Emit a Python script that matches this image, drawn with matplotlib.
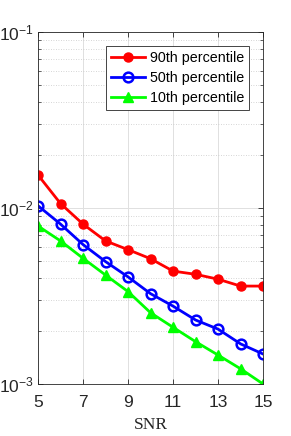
import matplotlib
matplotlib.use("Agg")
import matplotlib.pyplot as plt
from matplotlib.ticker import LogLocator, NullFormatter

plt.rcParams['font.family'] = ['Liberation Sans', 'DejaVu Sans']
plt.rcParams['mathtext.fontset'] = 'custom'
plt.rcParams['mathtext.rm'] = 'Liberation Sans'
plt.rcParams['mathtext.it'] = 'Liberation Sans:italic'

snr = [5, 6, 7, 8, 9, 10, 11, 12, 13, 14, 15]
p90 = [0.0154, 0.0106, 0.0081, 0.0065, 0.0058, 0.00515, 0.00438, 0.0042, 0.00394, 0.0036, 0.0036]
p50 = [0.0103, 0.0081, 0.0062, 0.00496, 0.00406, 0.00326, 0.00277, 0.00231, 0.00205, 0.00169, 0.00148]
p10 = [0.0079, 0.0065, 0.00518, 0.00416, 0.00335, 0.00254, 0.0021, 0.00174, 0.00146, 0.00122, 0.0010]
xticks = [5, 7, 9, 11, 13, 15]
yticks = [1e-3, 1e-2, 1e-1]
ytick_labels = ['$10^{-3}$', '$10^{-2}$', '$10^{-1}$']

fig = plt.figure(figsize=(2.91, 4.36), dpi=100)
ax = fig.add_axes([0.1306, 0.1193, 0.7734, 0.8073])

ax.semilogy(snr, p90, '-o', color='red', lw=2, ms=6.5, mfc='red', mec='red', label='90th percentile')
ax.semilogy(snr, p50, '-o', color='blue', lw=2, ms=7, mfc='none', mec='blue', mew=1.8, label='50th percentile')
ax.semilogy(snr, p10, '-^', color='#00ff00', lw=2, ms=7, mfc='#00ff00', mec='#00ff00', label='10th percentile')

ax.set_xlim(5, 15)
ax.set_ylim(1e-3, 1e-1)
ax.set_xticks(xticks)
ax.set_yticks(yticks)
ax.set_yticklabels(ytick_labels)
ax.yaxis.set_minor_locator(LogLocator(base=10, subs=range(2, 10)))
ax.yaxis.set_minor_formatter(NullFormatter())

ax.grid(True, which='major', color='#e0e0e0', lw=0.7, ls='-')
ax.grid(True, which='minor', axis='y', color='#c8c8c8', lw=0.6, ls=(0, (1, 2)))
ax.set_axisbelow(True)

ax.tick_params(which='both', direction='in', top=True, right=True, colors='#262626', labelsize=12.5)
ax.tick_params(which='major', length=3.5, width=0.6)
ax.tick_params(which='minor', length=2, width=0.5)
ax.tick_params(axis='x', pad=8)
ax.tick_params(axis='y', pad=3)
for s in ax.spines.values():
    s.set_color('#262626')
    s.set_linewidth(0.6)

ax.set_xlabel('SNR', family=['Liberation Serif', 'DejaVu Serif'], fontsize=12.5, color='#262626', labelpad=5)

leg = ax.legend(loc='upper right', bbox_to_anchor=(0.938, 0.960), fontsize=10.3, frameon=True,
                fancybox=False, edgecolor='#262626', framealpha=1, handlelength=2.4,
                borderpad=0.35, labelspacing=0.42, handletextpad=0.3, borderaxespad=0)
leg.get_frame().set_linewidth(0.6)

fig.savefig('out.png', dpi=100)
